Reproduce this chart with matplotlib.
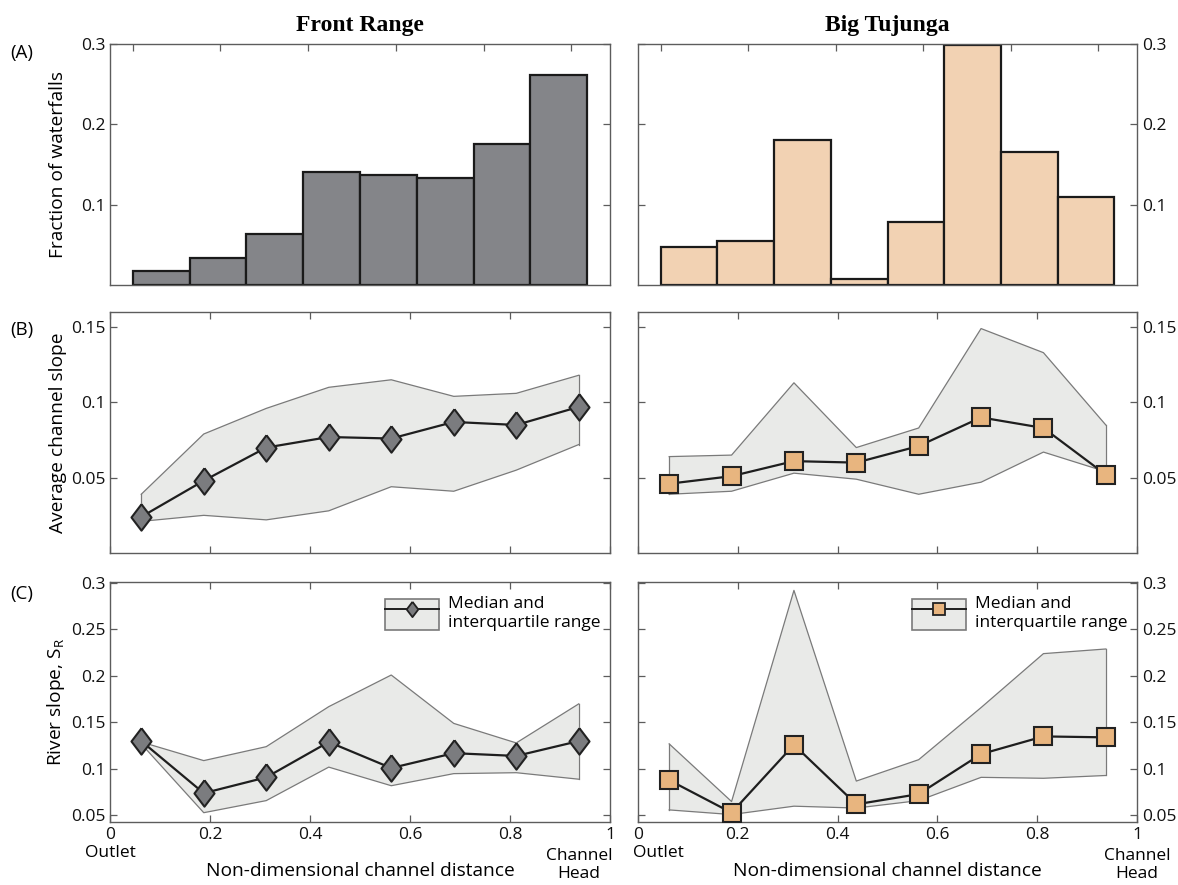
import matplotlib
matplotlib.use("Agg")
import matplotlib.pyplot as plt
from matplotlib.patches import Patch
from matplotlib.lines import Line2D
from matplotlib.legend_handler import HandlerTuple

plt.rcParams['font.family'] = ['Open Sans', 'DejaVu Sans']

# bin centres along the non-dimensional channel (outlet = 0, channel head = 1)
x_bins = [0.0625, 0.1875, 0.3125, 0.4375, 0.5625, 0.6875, 0.8125, 0.9375]
bin_width = 0.125

# (A) fraction of waterfalls per bin
frac_fr = [0.017, 0.034, 0.064, 0.141, 0.137, 0.133, 0.176, 0.262]
frac_bt = [0.047, 0.055, 0.181, 0.008, 0.079, 0.299, 0.165, 0.109]

# (B) average channel slope: median, upper and lower quartile
slope_fr_med = [0.024, 0.048, 0.070, 0.077, 0.076, 0.087, 0.085, 0.097]
slope_fr_q75 = [0.039, 0.079, 0.096, 0.110, 0.115, 0.104, 0.106, 0.118]
slope_fr_q25 = [0.021, 0.025, 0.022, 0.028, 0.044, 0.041, 0.055, 0.072]

slope_bt_med = [0.046, 0.051, 0.061, 0.060, 0.071, 0.090, 0.083, 0.052]
slope_bt_q75 = [0.064, 0.065, 0.113, 0.070, 0.083, 0.149, 0.133, 0.085]
slope_bt_q25 = [0.039, 0.041, 0.053, 0.049, 0.039, 0.047, 0.067, 0.054]

# (C) river slope S_R: median, upper and lower quartile
sr_fr_med = [0.130, 0.074, 0.091, 0.129, 0.101, 0.117, 0.114, 0.130]
sr_fr_q75 = [0.129, 0.109, 0.124, 0.167, 0.201, 0.149, 0.128, 0.170]
sr_fr_q25 = [0.127, 0.053, 0.066, 0.102, 0.082, 0.095, 0.096, 0.089]

sr_bt_med = [0.088, 0.053, 0.126, 0.062, 0.073, 0.116, 0.135, 0.134]
sr_bt_q75 = [0.127, 0.065, 0.292, 0.087, 0.110, 0.166, 0.224, 0.229]
sr_bt_q25 = [0.056, 0.051, 0.060, 0.058, 0.066, 0.091, 0.090, 0.093]

x_ticks = [0, 0.2, 0.4, 0.6, 0.8, 1]
x_ticklabels = ['0', '0.2', '0.4', '0.6', '0.8', '1']
hist_ticks = [0, 0.193, 0.386, 0.579, 0.772, 0.965]

W, H = 1178, 885
fig = plt.figure(figsize=(W / 100, H / 100), dpi=100)

def add_ax(x0, x1, y0, y1):
    return fig.add_axes([x0 / W, 1 - y1 / H, (x1 - x0) / W, (y1 - y0) / H])

cols = [(110, 610), (638, 1137)]
rows = [(44, 285), (312, 553), (582, 822)]
axes = [[add_ax(c[0], c[1], r[0], r[1]) for c in cols] for r in rows]

spine_col = '#5c5c5c'
band_col = '#e9eae8'
band_edge = '#7a7a7a'
diamond = [(0, 1), (0.76, 0), (0, -1), (-0.76, 0), (0, 1)]

styles = [
    dict(bar='#848589', marker=diamond, mfc='#7b7c7f', ms=19, lms=11,
         outlet=('center', 0), head=('right', 1.005)),
    dict(bar='#f2d2b3', marker='s', mfc='#e8b57f', ms=13.5, lms=8,
         outlet=('left', -0.01), head=('center', 1.0)),
]

def style_axes(ax, right):
    for sp in ax.spines.values():
        sp.set_color(spine_col)
        sp.set_linewidth(1.0)
    ax.tick_params(direction='in', length=5, width=0.9, color=spine_col,
                   top=True, bottom=True, left=True, right=True,
                   labelleft=not right, labelright=right,
                   labelsize=12.5, pad=3.5, labelcolor='#111111')

def band_plot(ax, med, q25, q75, st):
    ax.fill_between(x_bins, q25, q75, facecolor=band_col, edgecolor='none', zorder=1)
    ax.plot(x_bins, q75, color=band_edge, lw=0.9, zorder=2)
    ax.plot(x_bins, q25, color=band_edge, lw=0.9, zorder=2)
    ax.plot([x_bins[0]] * 2, [q25[0], q75[0]], color=band_edge, lw=0.9, zorder=2)
    ax.plot([x_bins[-1]] * 2, [q25[-1], q75[-1]], color=band_edge, lw=0.9, zorder=2)
    ax.plot(x_bins, med, color='#1e1e1e', lw=1.6, marker=st['marker'],
            ms=st['ms'], mfc=st['mfc'], mec='#222222', mew=1.5, zorder=3)

fracs = [frac_fr, frac_bt]
slopes = [(slope_fr_med, slope_fr_q25, slope_fr_q75),
          (slope_bt_med, slope_bt_q25, slope_bt_q75)]
rivers = [(sr_fr_med, sr_fr_q25, sr_fr_q75),
          (sr_bt_med, sr_bt_q25, sr_bt_q75)]
titles = ['Front Range', 'Big Tujunga']

for j in range(2):
    st = styles[j]
    right = j == 1

    # (A) histogram of waterfall positions
    ax = axes[0][j]
    ax.bar(x_bins, fracs[j], width=bin_width, color=st['bar'],
           edgecolor='#1a1a1a', linewidth=1.6, zorder=2)
    ax.set_xlim(-0.05, 1.05)
    ax.set_ylim(0, 0.3)
    ax.set_xticks(hist_ticks)
    ax.set_xticklabels([])
    ax.set_yticks([0.1, 0.2, 0.3])
    ax.set_yticklabels(['0.1', '0.2', '0.3'])
    style_axes(ax, right)
    ax.set_title(titles[j], family='Liberation Serif', fontweight='bold',
                 fontsize=17, pad=9)

    # (B) average channel slope
    ax = axes[1][j]
    band_plot(ax, *slopes[j], st)
    ax.set_xlim(0, 1)
    ax.set_ylim(0, 0.16)
    ax.set_xticks(x_ticks)
    ax.set_xticklabels([])
    ax.set_yticks([0.05, 0.1, 0.15])
    ax.set_yticklabels(['0.05', '0.1', '0.15'])
    style_axes(ax, right)

    # (C) river slope
    ax = axes[2][j]
    band_plot(ax, *rivers[j], st)
    ax.set_xlim(0, 1)
    ax.set_ylim(0.043, 0.301)
    ax.set_xticks(x_ticks)
    ax.set_xticklabels(x_ticklabels)
    ax.set_yticks([0.05, 0.1, 0.15, 0.2, 0.25, 0.3])
    ax.set_yticklabels(['0.05', '0.1', '0.15', '0.2', '0.25', '0.3'])
    style_axes(ax, right)
    ax.set_xlabel('Non-dimensional channel distance', fontsize=13.8)
    ax.xaxis.set_label_coords(0.5, -0.165)
    ax.annotate('Outlet', xy=(st['outlet'][1], 0), xycoords=('data', 'axes fraction'),
                xytext=(0, -31), textcoords='offset pixels',
                ha=st['outlet'][0], va='center', fontsize=12.5)
    ax.annotate('Channel\nHead', xy=(st['head'][1], 0), xycoords=('data', 'axes fraction'),
                xytext=(0, -43), textcoords='offset pixels',
                ha=st['head'][0], va='center', multialignment='center',
                fontsize=12.5, linespacing=1.2)

    band_proxy = Patch(facecolor=band_col, edgecolor=band_edge, linewidth=1.2)
    line_proxy = Line2D([], [], color='#1e1e1e', lw=1.4, marker=st['marker'],
                        ms=st['lms'], mfc=st['mfc'], mec='#222222', mew=1.3)
    ax.legend([(band_proxy, line_proxy)], ['Median and\ninterquartile range'],
              handler_map={tuple: HandlerTuple(ndivide=1, pad=0)},
              loc='upper left', bbox_to_anchor=(0.55, 0.94), frameon=False,
              fontsize=12.5, handlelength=3.1, handleheight=2.4,
              handletextpad=0.5, borderpad=0, borderaxespad=0)

# y labels on the left column
ylabels = ['Fraction of waterfalls', 'Average channel slope',
           r'River slope, S$_{\mathregular{R}}$']
for i in range(3):
    axes[i][0].set_ylabel(ylabels[i], fontsize=13.8)
    axes[i][0].yaxis.set_label_coords(-0.086, 0.5)

# panel letters
for lab, y in zip(['(A)', '(B)', '(C)'], [53, 330, 594]):
    fig.text(10 / W, 1 - y / H, lab, fontsize=13.5, ha='left', va='center')

fig.savefig('out.png', dpi=100)
